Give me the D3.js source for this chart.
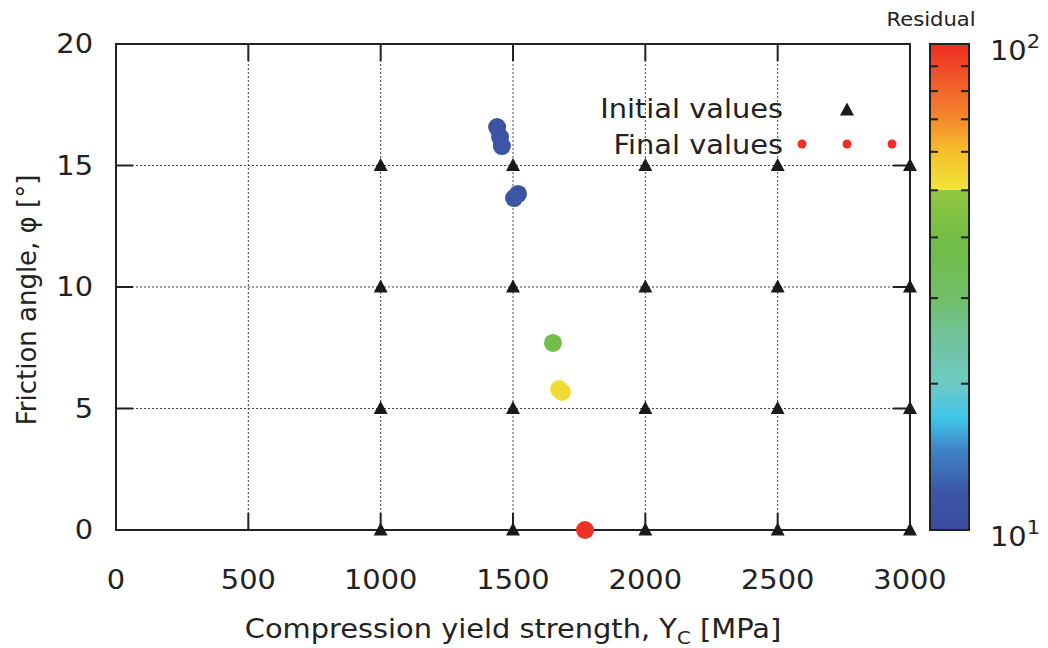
<!DOCTYPE html>
<html><head><meta charset="utf-8">
<script src="https://cdn.jsdelivr.net/npm/d3@7"></script>
<style>body{margin:0;background:#fff}svg{display:block}text{font-family:"DejaVu Sans",sans-serif;fill:#222}</style>
</head><body><svg id="c" width="1048" height="648"></svg>
<script>
// ---- data ----
const initialYc = [1000, 1500, 2000, 2500, 3000];
const initialPhi = [0, 5, 10, 15];
const finalYc =    [1440, 1451, 1458, 1519, 1504, 1651, 1674, 1685, 1772];
const finalPhi =   [16.58, 16.17, 15.80, 13.83, 13.66, 7.70, 5.80, 5.68, 0.0];
const finalResid = [11.2, 11.4, 11.6, 11.3, 11.5, 38, 52, 53, 98];
const xTicks = [0, 500, 1000, 1500, 2000, 2500, 3000];
const yTicks = [0, 5, 10, 15, 20];
const cbMinorTicks = [2, 3, 4, 5, 6, 7, 8, 9].map(d => d * 10);
// palette stops (t = position on log colorbar, 0 bottom .. 1 top)
const palT = [0, 0.08, 0.16, 0.23, 0.30, 0.40, 0.48, 0.60, 0.6989, 0.699, 0.78, 0.85, 1];
const palC = ["#3a4a9c", "#3c58a6", "#3f80c3", "#3ec4ea", "#6ecac4", "#71c39a", "#71be66", "#72bd45", "#92c740", "#f0e63a", "#f6be2b", "#f4852d", "#ee2d24"];

const svg = d3.select("#c");
const L = 116, R = 910, T = 44, B = 530;
const SX = 1.11; // horizontal stretch of text in the reference
const x = d3.scaleLinear().domain([0, 3000]).range([L, R]);
const y = d3.scaleLinear().domain([0, 20]).range([B, T]);
const cb = d3.scaleLog().domain([10, 100]).range([B, T]);
const tcol = d3.scaleLinear().domain(palT).range(palC);
const color = v => tcol(Math.log10(v) - 1);

function label(px, py, anchor, size, str, isHtml) {
  const t = svg.append("g").attr("transform", `translate(${px},${py}) scale(${SX},1)`)
    .append("text").attr("text-anchor", anchor).attr("font-size", size);
  if (isHtml) t.html(str); else t.text(str);
  return t;
}

// grid
const g = svg.append("g");
xTicks.filter(d => d > 0 && d < 3000).forEach(d => {
  g.append("line").attr("x1", x(d)).attr("x2", x(d)).attr("y1", T).attr("y2", B)
    .attr("stroke", "#444").attr("stroke-width", 1).attr("stroke-dasharray", "2,2");
});
yTicks.filter(d => d > 0 && d < 20).forEach(d => {
  g.append("line").attr("x1", L).attr("x2", R).attr("y1", y(d)).attr("y2", y(d))
    .attr("stroke", "#444").attr("stroke-width", 1).attr("stroke-dasharray", "2,2");
});

// ticks (inside, mirrored)
const tl = 17;
xTicks.forEach(d => {
  g.append("line").attr("x1", x(d)).attr("x2", x(d)).attr("y1", B).attr("y2", B - tl).attr("stroke", "#222").attr("stroke-width", 2);
  g.append("line").attr("x1", x(d)).attr("x2", x(d)).attr("y1", T).attr("y2", T + tl).attr("stroke", "#222").attr("stroke-width", 2);
  label(x(d), 589, "middle", 26, d);
});
yTicks.forEach(d => {
  g.append("line").attr("x1", L).attr("x2", L + tl).attr("y1", y(d)).attr("y2", y(d)).attr("stroke", "#222").attr("stroke-width", 2);
  g.append("line").attr("x1", R).attr("x2", R - tl).attr("y1", y(d)).attr("y2", y(d)).attr("stroke", "#222").attr("stroke-width", 2);
  label(93, y(d) + 9, "end", 26, d);
});

// frame
svg.append("rect").attr("x", L).attr("y", T).attr("width", R - L).attr("height", B - T)
  .attr("fill", "none").attr("stroke", "#222").attr("stroke-width", 2);

// axis titles
label(513, 638, "middle", 26, 'Compression yield strength, Y<tspan font-size="18" dy="6">C</tspan><tspan dy="-6"> [MPa]</tspan>', true);
svg.append("text").attr("transform", "translate(36,300) rotate(-90) scale(1,1.05)").attr("text-anchor", "middle").attr("font-size", 26)
  .text("Friction angle, φ [°]");

// triangles (initial values)
const tri = "M0,-7.5L7,5.5L-7,5.5Z";
const initPts = [];
initialYc.forEach(a => initialPhi.forEach(b => initPts.push([a, b])));
svg.append("g").selectAll("path").data(initPts).join("path")
  .attr("d", tri).attr("transform", d => `translate(${x(d[0])},${y(d[1])})`).attr("fill", "#1a1a1a");

// final values
const fin = finalYc.map((d, i) => ({ yc: d, phi: finalPhi[i], r: finalResid[i] }));
svg.append("g").selectAll("circle").data(fin).join("circle")
  .attr("cx", d => x(d.yc)).attr("cy", d => y(d.phi)).attr("r", 9).attr("fill", d => color(d.r));

// legend
label(783, 118, "end", 26, "Initial values");
svg.append("path").attr("d", tri).attr("transform", "translate(847,110)").attr("fill", "#1a1a1a");
label(783, 154, "end", 26, "Final values");
[802, 847, 892].forEach(cx => svg.append("circle").attr("cx", cx).attr("cy", 144).attr("r", 4.5).attr("fill", "#ee2d24"));

// colorbar
const CL = 930, CR = 969;
const defs = svg.append("defs");
const grad = defs.append("linearGradient").attr("id", "cbg").attr("x1", 0).attr("x2", 0).attr("y1", 1).attr("y2", 0);
palT.forEach((t, i) => grad.append("stop").attr("offset", t).attr("stop-color", palC[i]));
svg.append("rect").attr("x", CL).attr("y", T).attr("width", CR - CL).attr("height", B - T)
  .attr("fill", "url(#cbg)").attr("stroke", "#222").attr("stroke-width", 2);
cbMinorTicks.forEach(v => {
  svg.append("line").attr("x1", CL).attr("x2", CL + 8).attr("y1", cb(v)).attr("y2", cb(v)).attr("stroke", "#222").attr("stroke-width", 2);
  svg.append("line").attr("x1", CR).attr("x2", CR - 8).attr("y1", cb(v)).attr("y2", cb(v)).attr("stroke", "#222").attr("stroke-width", 2);
});
[[100, "2"], [10, "1"]].forEach(([v, e]) => {
  label(990, cb(v) + 16, "start", 26, `10<tspan font-size="19" dy="-12">${e}</tspan>`, true);
});
label(931, 26, "middle", 19, "Residual");
</script></body></html>
